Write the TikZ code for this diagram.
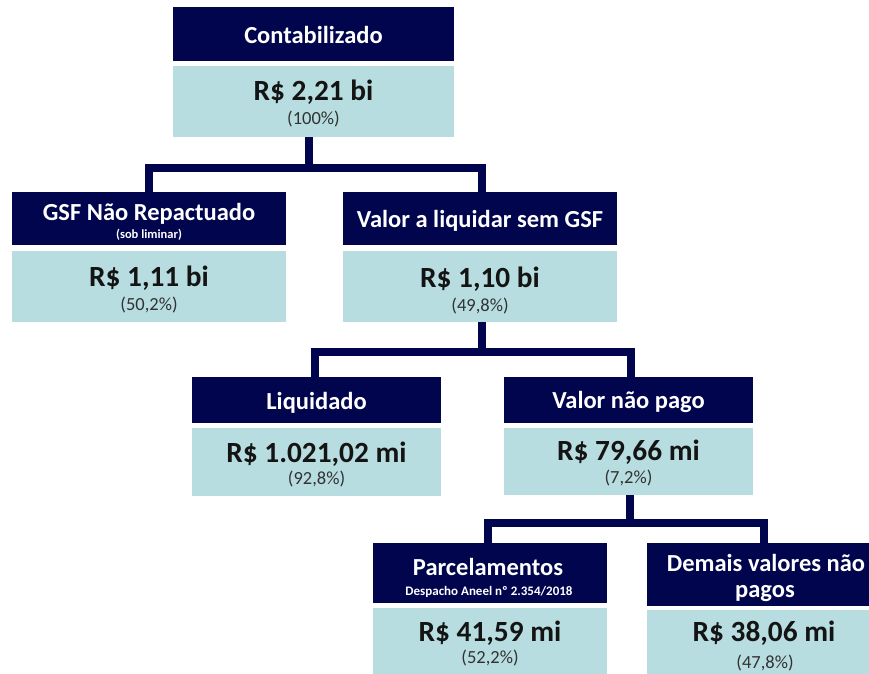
\documentclass[tikz,border=0pt]{standalone}
\usepackage{fontspec}
\setmainfont{Carlito}
\usetikzlibrary{fit}
\definecolor{navy}{RGB}{0,5,78}
\definecolor{lteal}{RGB}{183,221,224}
\definecolor{valtxt}{RGB}{20,20,20}
\definecolor{pcttxt}{RGB}{50,50,50}
\tikzset{
  hdr/.style={fill=navy, draw=none, inner sep=0pt, outer sep=0pt},
  valbox/.style={fill=lteal, draw=none, inner sep=0pt, outer sep=0pt},
  htxt/.style={text=white, font=\bfseries\fontsize{24.5}{28}\selectfont, anchor=base, inner sep=0pt},
  stxt/.style={text=white, font=\bfseries\fontsize{12.5}{15}\selectfont, anchor=base, inner sep=0pt},
  dtxt/.style={text=white, font=\bfseries\fontsize{13}{15}\selectfont, anchor=base, inner sep=0pt},
  vtxt/.style={text=valtxt, font=\bfseries\fontsize{29.3}{34}\selectfont, anchor=base, inner sep=0pt},
  pct/.style={text=pcttxt, font=\fontsize{18.5}{22}\selectfont, anchor=base, inner sep=0pt},
  conn/.style={draw=navy, line width=7.5pt, line join=miter, line cap=butt}
}
\begin{document}
\begin{tikzpicture}[x=1pt,y=-1pt]
\useasboundingbox (0,0) rectangle (869,673);
\clip (0,0) rectangle (869,673);
\fill[white] (0,0) rectangle (869,673);

% boxes
\node[hdr, fit={(173,7) (454,61)}] (ch) {};
\node[valbox, fit={(173,66) (454,137)}] (cv) {};
\node[hdr, fit={(12,192) (286,245)}] (gh) {};
\node[valbox, fit={(12,251) (286,322)}] (gv) {};
\node[hdr, fit={(343,192) (617,245)}] (vh) {};
\node[valbox, fit={(343,251) (617,322)}] (vv) {};
\node[hdr, fit={(192,377) (441,423)}] (lh) {};
\node[valbox, fit={(192,428) (441,496)}] (lv) {};
\node[hdr, fit={(504,377) (753,423)}] (nh) {};
\node[valbox, fit={(504,428) (753,495)}] (nv) {};
\node[hdr, fit={(373,543) (607,603)}] (ph) {};
\node[valbox, fit={(373,608) (607,680)}] (pv) {};
\node[hdr, fit={(647,543) (883,606)}] (dh) {};
\node[valbox, fit={(647,610) (883,680)}] (dv) {};

% connectors
\coordinate (j1) at (309,168);
\coordinate (c1) at (309,137);
\coordinate (g1) at (149,192);
\coordinate (v1) at (482,192);
\draw[conn] (c1) -- (j1);
\draw[conn] (g1) |- (j1) -| (v1);

\coordinate (j2) at (482,352);
\coordinate (c2) at (482,322);
\coordinate (l2) at (315,377);
\coordinate (n2) at (631,377);
\draw[conn] (c2) -- (j2);
\draw[conn] (l2) |- (j2) -| (n2);

\coordinate (j3) at (630,523);
\coordinate (c3) at (630,495);
\coordinate (p3) at (488,543);
\coordinate (d3) at (764,543);
\draw[conn] (c3) -- (j3);
\draw[conn] (p3) |- (j3) -| (d3);

% texts
\node[htxt] (tc) at (313.5,43) {Contabilizado};
\node[vtxt] (tcv) at (313.5,100) {R\$ 2,21 bi};
\node[pct] (tcp) at (313.5,124) {(100\%)};

\node[htxt] (tg) at (149,220) {GSF Não Repactuado};
\node[stxt] (tgs) at (149,238) {(sob liminar)};
\node[vtxt] (tgv) at (149,286) {R\$ 1,11 bi};
\node[pct] (tgp) at (149,310) {(50,2\%)};

\node[htxt] (tv) at (480,227) {Valor a liquidar sem GSF};
\node[vtxt] (tvv) at (480,287) {R\$ 1,10 bi};
\node[pct] (tvp) at (480,311) {(49,8\%)};

\node[htxt] (tl) at (316.5,409) {Liquidado};
\node[vtxt] (tlv) at (316.5,462) {R\$ 1.021,02 mi};
\node[pct] (tlp) at (316.5,484) {(92,8\%)};

\node[htxt] (tn) at (628.5,408) {Valor não pago};
\node[vtxt] (tnv) at (628.5,460) {R\$ 79,66 mi};
\node[pct] (tnp) at (628.5,483) {(7,2\%)};

\node[htxt] (tp) at (488,575) {Parcelamentos};
\node[dtxt] (tps) at (489,595) {Despacho Aneel nº 2.354/2018};
\node[vtxt] (tpv) at (490,641) {R\$ 41,59 mi};
\node[pct] (tpp) at (490,663) {(52,2\%)};

\node[htxt] (td) at (766,571) {Demais valores não};
\node[htxt] (td2) at (765,597) {pagos};
\node[vtxt] (tdv) at (764,641) {R\$ 38,06 mi};
\node[pct] (tdp) at (765,668) {(47,8\%)};
\end{tikzpicture}
\end{document}
